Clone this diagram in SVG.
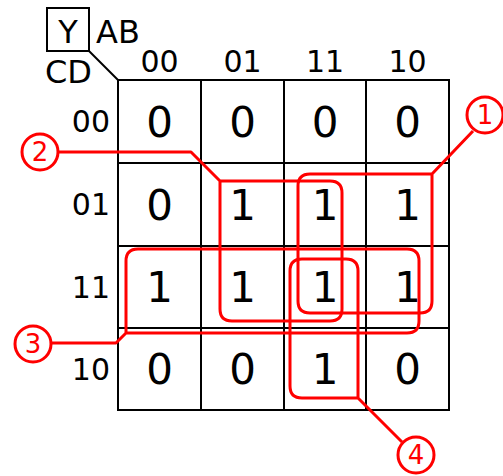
<svg xmlns="http://www.w3.org/2000/svg" width="503" height="476" viewBox="0 0 503 476">
  <style>
    text { font-family: "DejaVu Sans", Verdana, sans-serif; fill: #000; }
    .lbl { font-size: 30px; }
    .hdr { font-size: 32px; }
    .val { font-size: 42px; text-anchor: middle; }
    .col { text-anchor: middle; }
    .row { text-anchor: end; }
    .grid { fill: none; stroke: #000; stroke-width: 2; }
    .loop { fill: none; stroke: #ff0000; stroke-width: 3; stroke-linejoin: round; }
    .tag circle { fill: #fff; stroke: #ff0000; stroke-width: 3; }
    .tag text { font-size: 26px; fill: #ff0000; text-anchor: middle; }
  </style>
  <rect width="503" height="476" fill="#fff"/>

  <!-- corner header -->
  <g id="header">
    <rect class="grid" x="47" y="8" width="42" height="43"/>
    <line class="grid" x1="89" y1="51" x2="118" y2="80"/>
    <text class="hdr" x="68" y="43" text-anchor="middle">Y</text>
    <text class="hdr" x="96" y="43">AB</text>
    <text class="hdr" x="45" y="83">CD</text>
  </g>

  <!-- map grid -->
  <g id="grid">
    <rect class="grid" x="118" y="80" width="331" height="330"/>
    <line class="grid" x1="201" y1="80" x2="201" y2="410"/>
    <line class="grid" x1="284" y1="80" x2="284" y2="410"/>
    <line class="grid" x1="366" y1="80" x2="366" y2="410"/>
    <line class="grid" x1="118" y1="163" x2="449" y2="163"/>
    <line class="grid" x1="118" y1="246" x2="449" y2="246"/>
    <line class="grid" x1="118" y1="328" x2="449" y2="328"/>
  </g>

  <!-- AB column labels -->
  <g id="columns" class="lbl col">
    <text x="159.5" y="72">00</text>
    <text x="242.5" y="72">01</text>
    <text x="325" y="72">11</text>
    <text x="407.5" y="72">10</text>
  </g>

  <!-- CD row labels -->
  <g id="rows" class="lbl row">
    <text x="110" y="132">00</text>
    <text x="110" y="215">01</text>
    <text x="110" y="298">11</text>
    <text x="110" y="380">10</text>
  </g>

  <!-- cell values -->
  <g id="cells" class="val">
    <text x="159.5" y="137">0</text>
    <text x="242.5" y="137">0</text>
    <text x="325" y="137">0</text>
    <text x="407.5" y="137">0</text>
    <text x="159.5" y="220">0</text>
    <text x="242.5" y="220">1</text>
    <text x="325" y="220">1</text>
    <text x="407.5" y="220">1</text>
    <text x="159.5" y="302">1</text>
    <text x="242.5" y="302">1</text>
    <text x="325" y="302">1</text>
    <text x="407.5" y="302">1</text>
    <text x="159.5" y="384">0</text>
    <text x="242.5" y="384">0</text>
    <text x="325" y="384">1</text>
    <text x="407.5" y="384">0</text>
  </g>

  <!-- groupings and leaders -->
  <g id="connectors">
    <path id="loop1" class="loop" d="M432,174 L432,301 Q432,313 420,313 L310,313 Q298,313 298,301 L298,186 Q298,174 310,174 Z M432,174 L473,131"/>
    <path id="loop2" class="loop" d="M220,181 L330,181 Q342,181 342,193 L342,309 Q342,321 330,321 L232,321 Q220,321 220,309 Z M220,181 L191,152 L59,152"/>
    <path id="loop3" class="loop" d="M126,333 L126,261 Q126,249 138,249 L407,249 Q419,249 419,261 L419,321 Q419,333 407,333 Z M126,333 L116,343 L52,343"/>
    <path id="loop4" class="loop" d="M358,398 L302,398 Q290,398 290,386 L290,271 Q290,259 302,259 L346,259 Q358,259 358,271 Z M358,398 L402,442"/>
  </g>

  <!-- numbered tags -->
  <g id="tag1" class="tag">
    <circle cx="485" cy="115" r="18"/>
    <text x="485" y="124">1</text>
  </g>
  <g id="tag2" class="tag">
    <circle cx="40" cy="152" r="18"/>
    <text x="40" y="161">2</text>
  </g>
  <g id="tag3" class="tag">
    <circle cx="33" cy="344" r="18"/>
    <text x="33" y="353">3</text>
  </g>
  <g id="tag4" class="tag">
    <circle cx="416" cy="455" r="18"/>
    <text x="416" y="464">4</text>
  </g>
</svg>
